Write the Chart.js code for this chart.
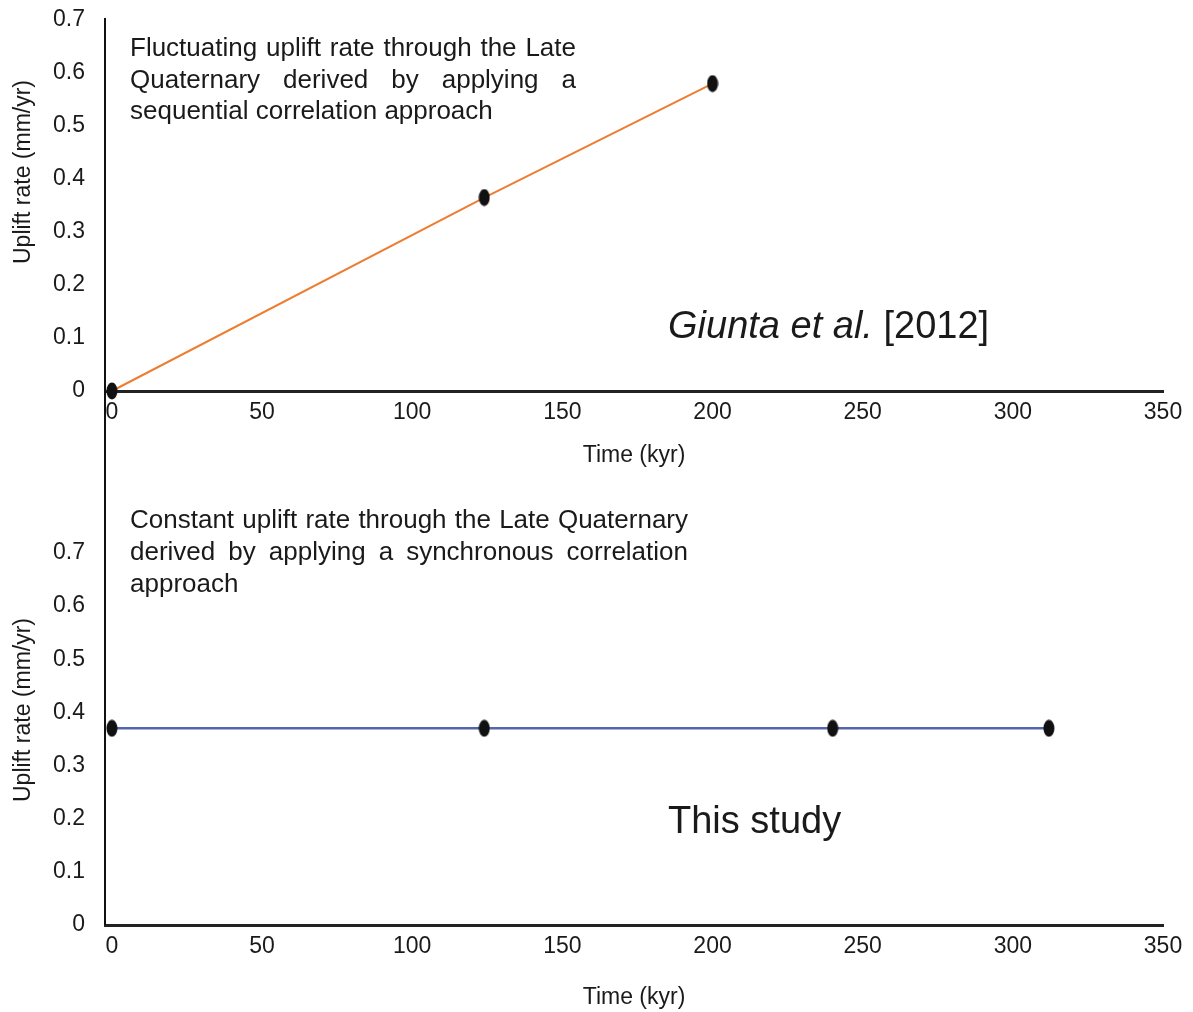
<!DOCTYPE html>
<html>
<head>
<meta charset="utf-8">
<script src="https://cdn.jsdelivr.net/npm/chart.js@4.4.0/dist/chart.umd.min.js"></script>
<style>
  html, body { margin: 0; padding: 0; background: #fff; }
  .box { position: absolute; left: 0; width: 1193px; }
</style>
</head>
<body>
<div class="box" style="top:0;height:480px"><canvas id="chartTop"></canvas></div>
<div class="box" style="top:480px;height:532px"><canvas id="chartBottom"></canvas></div>
<script>
// axis ticks
const xTicks = [0, 50, 100, 150, 200, 250, 300, 350];
const yTicks = [0, 0.1, 0.2, 0.3, 0.4, 0.5, 0.6, 0.7];

// Giunta et al. [2012] - fluctuating rate
const giuntaTime = [0, 124, 200];
const giuntaRate = [0, 0.365, 0.58];

// this study - constant rate
const studyTime = [0, 124, 240, 312];
const studyRate = [0.37, 0.37, 0.37, 0.37];

const topNote = [
  "Fluctuating uplift rate through the Late",
  "Quaternary derived by applying a",
  "sequential correlation approach"
];
const bottomNote = [
  "Constant uplift rate through the Late Quaternary",
  "derived by applying a synchronous correlation",
  "approach"
];

const FONT = '"Liberation Sans", Arial, sans-serif';
const INK = '#1a1a1a';

// black upright ellipse used as marker
function makeDot() {
  const c = document.createElement('canvas');
  c.width = 12; c.height = 18;
  const g = c.getContext('2d');
  g.fillStyle = '#111';
  g.beginPath();
  g.ellipse(6, 9, 5.5, 8.5, 0, 0, Math.PI * 2);
  g.fill();
  return c;
}
const dot = makeDot();

function drawNote(ctx, lines, x, y0, step, width) {
  ctx.save();
  ctx.font = '26px ' + FONT;
  ctx.fillStyle = INK;
  ctx.textBaseline = 'middle';
  ctx.textAlign = 'left';
  lines.forEach((line, i) => {
    const y = y0 + i * step;
    const words = line.split(' ');
    if (i === lines.length - 1 || words.length < 2) {
      ctx.fillText(line, x, y);
      return;
    }
    const wordsW = words.reduce((s, w) => s + ctx.measureText(w).width, 0);
    const gap = (width - wordsW) / (words.length - 1);
    let cx = x;
    words.forEach(w => {
      ctx.fillText(w, cx, y);
      cx += ctx.measureText(w).width + gap;
    });
  });
  ctx.restore();
}

function drawYTitle(ctx, x, y) {
  ctx.save();
  ctx.translate(x, y);
  ctx.rotate(-Math.PI / 2);
  ctx.font = '23px ' + FONT;
  ctx.fillStyle = INK;
  ctx.textAlign = 'center';
  ctx.textBaseline = 'middle';
  ctx.fillText('Uplift rate (mm/yr)', 0, 0);
  ctx.restore();
}

function makeOptions(padTop, xHeight, xTitlePad) {
  return {
    responsive: true,
    maintainAspectRatio: false,
    animation: false,
    layout: { padding: { top: padTop, right: 30, left: 0, bottom: 0 } },
    plugins: { legend: { display: false }, tooltip: { enabled: false } },
    scales: {
      x: {
        type: 'linear',
        min: -2.3,
        max: 350,
        afterBuildTicks: s => { s.ticks = xTicks.map(v => ({ value: v })); },
        afterFit: s => { s.height = xHeight; },
        ticks: {
          font: { size: 23, family: FONT },
          color: INK,
          padding: 8,
          maxRotation: 0,
          autoSkip: false
        },
        grid: { display: false, drawTicks: false },
        border: { display: true, color: '#222', width: 3 },
        title: {
          display: true,
          text: 'Time (kyr)',
          font: { size: 23, family: FONT },
          color: INK,
          padding: { top: 0, bottom: xTitlePad }
        }
      },
      y: {
        type: 'linear',
        min: 0,
        max: 0.7,
        afterBuildTicks: s => { s.ticks = yTicks.map(v => ({ value: v })); },
        afterFit: s => {
          s.width = 105;
          s.paddingTop = 14;
          s.paddingBottom = 14;
        },
        ticks: {
          font: { size: 23, family: FONT },
          color: INK,
          padding: 20,
          callback: v => String(Math.round(v * 10) / 10)
        },
        grid: { display: false, drawTicks: false },
        border: { display: false }
      }
    }
  };
}

const topExtras = {
  id: 'topExtras',
  beforeDatasetsDraw(chart) {
    const ctx = chart.ctx;
    const x = chart.scales.y.right;
    ctx.save();
    ctx.strokeStyle = '#111';
    ctx.lineWidth = 2;
    ctx.beginPath();
    ctx.moveTo(x, chart.chartArea.top - 2);
    ctx.lineTo(x, chart.height);
    ctx.stroke();
    ctx.restore();
  },
  afterDraw(chart) {
    const ctx = chart.ctx;
    drawNote(ctx, topNote, 130, 49, 31.5, 446);
    drawYTitle(ctx, 24, 172);
    ctx.save();
    ctx.fillStyle = INK;
    ctx.textBaseline = 'alphabetic';
    ctx.font = 'italic 38px ' + FONT;
    ctx.fillText('Giunta et al.', 668, 338);
    const w = ctx.measureText('Giunta et al.').width;
    ctx.font = '38px ' + FONT;
    ctx.fillText(' [2012]', 668 + w, 338);
    ctx.restore();
  }
};

const bottomExtras = {
  id: 'bottomExtras',
  beforeDatasetsDraw(chart) {
    const ctx = chart.ctx;
    const x = chart.scales.y.right;
    ctx.save();
    ctx.strokeStyle = '#111';
    ctx.lineWidth = 2;
    ctx.beginPath();
    ctx.moveTo(x, 0);
    ctx.lineTo(x, chart.chartArea.bottom);
    ctx.stroke();
    ctx.restore();
  },
  afterDraw(chart) {
    const ctx = chart.ctx;
    drawNote(ctx, bottomNote, 130, 41, 32, 558);
    drawYTitle(ctx, 24, 230);
    ctx.save();
    ctx.fillStyle = INK;
    ctx.font = '38px ' + FONT;
    ctx.fillText('This study', 668, 353);
    ctx.restore();
  }
};

new Chart(document.getElementById('chartTop'), {
  type: 'line',
  data: {
    datasets: [{
      data: giuntaTime.map((t, i) => ({ x: t, y: giuntaRate[i] })),
      borderColor: '#ED7D31',
      borderWidth: 2,
      pointStyle: dot,
      clip: false,
      tension: 0
    }]
  },
  options: makeOptions(20, 89, 11),
  plugins: [topExtras]
});

new Chart(document.getElementById('chartBottom'), {
  type: 'line',
  data: {
    datasets: [{
      data: studyTime.map((t, i) => ({ x: t, y: studyRate[i] })),
      borderColor: '#5266AE',
      borderWidth: 2.5,
      pointStyle: dot,
      clip: false,
      tension: 0
    }]
  },
  options: makeOptions(73, 87, 1),
  plugins: [bottomExtras]
});
</script>
</body>
</html>
